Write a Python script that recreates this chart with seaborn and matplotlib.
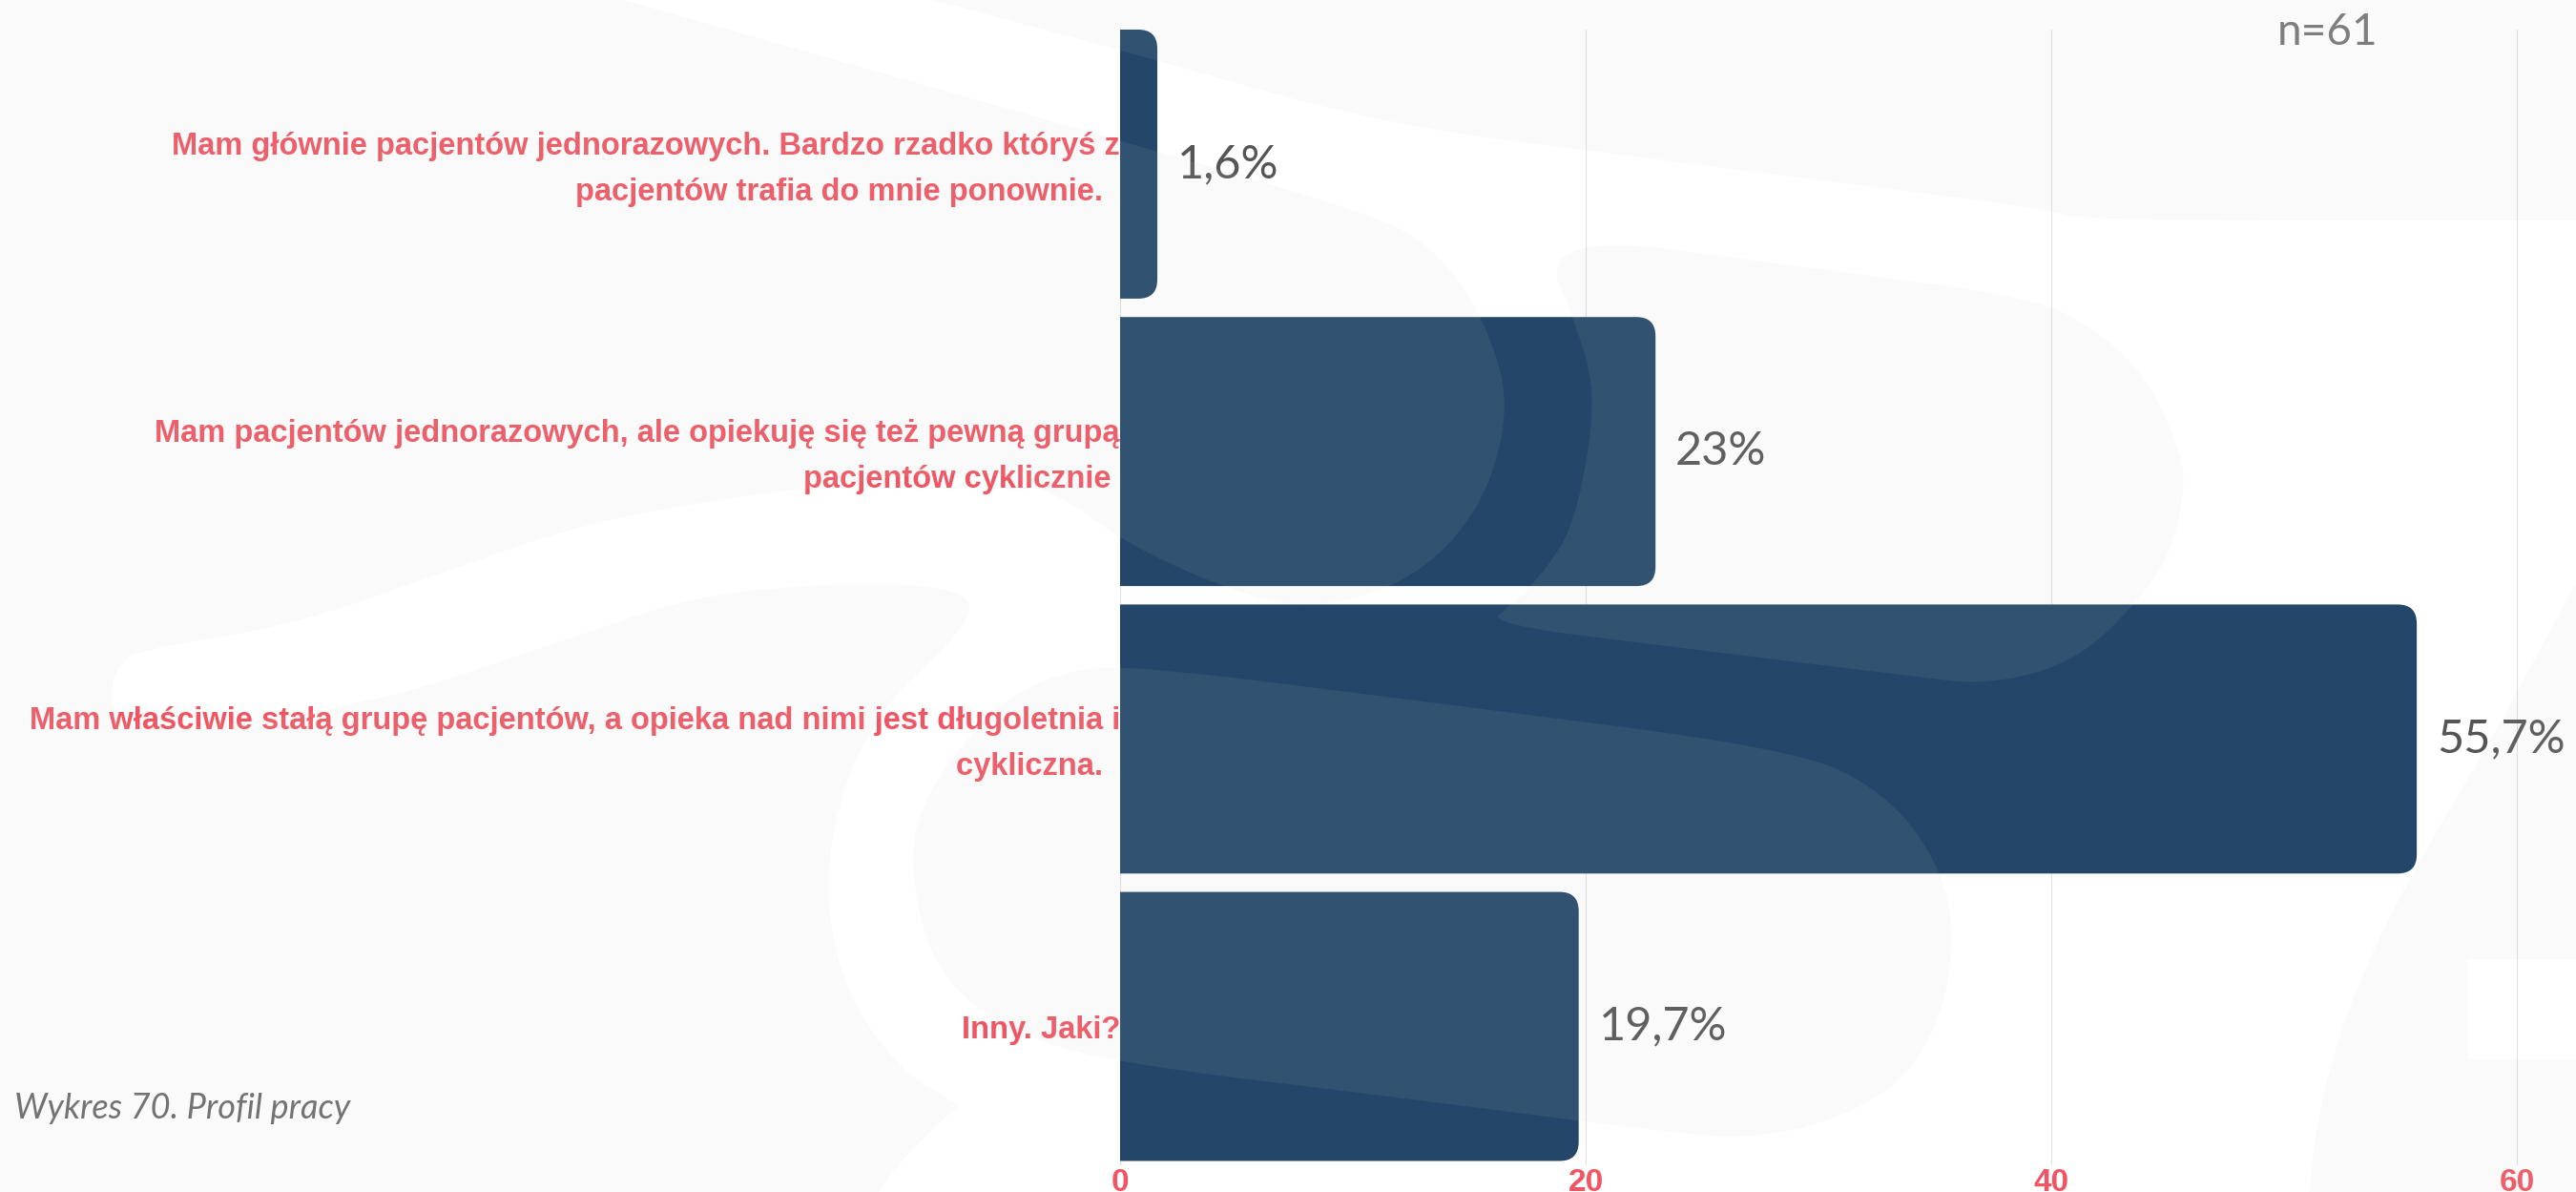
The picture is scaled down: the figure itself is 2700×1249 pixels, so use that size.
import numpy as np
import pandas as pd
import matplotlib
matplotlib.use("Agg")
import matplotlib.pyplot as plt
import matplotlib.transforms as mtransforms
import seaborn as sns
from matplotlib.patches import FancyBboxPatch, Polygon

# ---- data -------------------------------------------------------------
categories = [
    "Mam głównie pacjentów jednorazowych. Bardzo rzadko któryś z\npacjentów trafia do mnie ponownie.  ",
    "Mam pacjentów jednorazowych, ale opiekuję się też pewną grupą\npacjentów cyklicznie ",
    "Mam właściwie stałą grupę pacjentów, a opieka nad nimi jest długoletnia i\ncykliczna.  ",
    "Inny. Jaki?",
]
shares = [1.6, 23.0, 55.7, 19.7]
x_ticks = [0, 20, 40, 60]
sample_note = "n=61"
caption = "Wykres 70. Profil pracy"

# ---- style ------------------------------------------------------------
BAR = "#234669"
RED = "#EF5562"
VALUE_GREY = "#555555"
NOTE_GREY = "#777777"
GRID = "#E2E2E2"

W_PX, H_PX, DPI = 2700, 1249, 100
X_MAX = 62.54
BAR_W = 0.936
CORNER_PX = 20

sns.set_theme(style="white")
plt.rcParams["font.family"] = ["Liberation Sans", "DejaVu Sans"]

fig = plt.figure(figsize=(W_PX / DPI, H_PX / DPI), dpi=DPI, facecolor="white")
ax_left, ax_bottom = 1174 / W_PX, (H_PX - 1221) / H_PX
ax_w, ax_h = 1 - ax_left, 1190 / H_PX
ax = fig.add_axes([ax_left, ax_bottom, ax_w, ax_h])
ax.patch.set_alpha(0)

df = pd.DataFrame({"odpowiedz": categories, "procent": shares})
sns.barplot(data=df, x="procent", y="odpowiedz", orient="h", color=BAR,
            saturation=1, width=BAR_W, ax=ax)

ax.set_xlim(0, X_MAX)
n = len(categories)
ax.set_ylim(n - 1 + BAR_W / 2 + 0.015, -BAR_W / 2)

# rounded right-hand corners: replace each rectangle by a rounded box whose
# left end sits beyond the axes and is clipped away
rx = CORNER_PX * X_MAX / (ax_w * W_PX)
ry = CORNER_PX * (n - 1 + BAR_W + 0.015) / (ax_h * H_PX)
for bar in list(ax.patches):
    x0, y0 = bar.get_x(), bar.get_y()
    w, h = bar.get_width(), bar.get_height()
    bar.remove()
    ext = 3.0
    ax.add_patch(FancyBboxPatch(
        (x0 - ext, y0), w + ext, h,
        boxstyle=f"round,pad=0,rounding_size={rx}",
        mutation_aspect=ry / rx, facecolor=BAR, edgecolor="none",
        zorder=2, clip_on=True))

# value labels
for i, v in enumerate(shares):
    txt = f"{v:g}".replace(".", ",") + "%"
    ax.annotate(txt, xy=(v, i), xytext=(15, 0), textcoords="offset points",
                va="center", ha="left", fontsize=35, color=VALUE_GREY,
                family=["Lato", "DejaVu Sans"])

# axes cosmetics
for s in ax.spines.values():
    s.set_visible(False)
ax.set_xticks(x_ticks)
ax.set_xticklabels([str(t) for t in x_ticks])
ax.xaxis.grid(True, color=GRID, linewidth=0.8)
ax.yaxis.grid(False)
ax.set_axisbelow(True)
ax.set_xlabel("")
ax.set_ylabel("")
ax.tick_params(axis="x", length=0, pad=2, labelsize=24, labelcolor=RED)
ax.tick_params(axis="y", length=0, pad=0, labelsize=23.5, labelcolor=RED)
for lbl in ax.get_xticklabels():
    lbl.set_fontweight("bold")
lift = mtransforms.ScaledTranslation(0, 5 / 72, fig.dpi_scale_trans)
for lbl in ax.get_yticklabels():
    lbl.set_fontweight("bold")
    lbl.set_linespacing(1.72)
    lbl.set_multialignment("right")
    if "\n" in lbl.get_text():
        lbl.set_transform(lbl.get_transform() + lift)

# notes
fig.text(2440 / W_PX, 1 - 34 / H_PX, sample_note, ha="center", va="center",
         fontsize=33, color=NOTE_GREY, family=["Lato", "DejaVu Sans"])
fig.text(15 / W_PX, 1 - 1172 / H_PX, caption, ha="left", va="baseline",
         fontsize=26, color="#6a6a6a", style="italic", fontweight="normal",
         family=["Lato", "DejaVu Sans"])


# ---- faint background emblem (grey veil with white cut-outs) -----------
def chaikin(pts, it=3):
    p = np.asarray(pts, float)
    for _ in range(it):
        q = np.roll(p, -1, axis=0)
        new = np.empty((2 * len(p), 2))
        new[0::2] = 0.75 * p + 0.25 * q
        new[1::2] = 0.25 * p + 0.75 * q
        p = new
    return p


def sharp(*pt):
    return [pt, pt, pt]


veil_left = (
    sharp(-60, -60) + [(442, -60), (654, 0), (1170, 146), (1440, 225),
    (1495, 255), (1535, 300), (1565, 360), (1580, 420), (1568, 490),
    (1538, 550), (1490, 598), (1430, 626), (1370, 634), (1320, 628),
    (1240, 598), (1170, 562), (1116, 522), (1060, 500), (1000, 494),
    (886, 506), (733, 526), (600, 552), (450, 605), (306, 655), (153, 680),
    (126, 693), (115, 724), (122, 752), (146, 769), (383, 741), (600, 668),
    (726, 625), (860, 612), (960, 612), (1010, 622), (1020, 640),
    (990, 680), (925, 740), (880, 830), (864, 941), (887, 1042), (944, 1122)]
    + sharp(1005, 1158) + [(960, 1200), (917, 1249), (900, 1310)]
    + sharp(-60, 1310)
)
veil_top = (
    [(753, -60)] + sharp(2760, -60) + sharp(2760, 231)
    + [(2187, 231), (2152, 221), (2070, 209), (1664, 158), (1440, 128),
       (1170, 51), (978, 0)]
)
veil_mid = [
    (1612, 243), (1900, 281), (2134, 312), (2201, 348), (2250, 395),
    (2286, 474), (2290, 514), (2277, 573), (2250, 620), (2179, 692),
    (2085, 718), (2000, 708), (1780, 681), (1560, 654), (1583, 634),
    (1600, 620), (1640, 570), (1658, 514), (1672, 419), (1658, 356),
]
veil_low = [
    (1181, 696), (1500, 736), (1882, 785), (1974, 829), (2031, 901),
    (2050, 981), (2031, 1082), (1974, 1154), (1847, 1196), (1715, 1182),
    (1450, 1148), (1170, 1114), (1059, 1082), (982, 1022), (954, 921),
    (963, 841), (1040, 740), (1110, 705),
]
veil_right = (
    sharp(2760, 500) + [(2700, 610), (2620, 760), (2536, 901), (2480, 1010),
    (2446, 1102), (2428, 1180), (2420, 1249)] + sharp(2418, 1310)
    + sharp(2760, 1310) + sharp(2760, 1110) + sharp(2587, 1110)
    + sharp(2587, 1005) + sharp(2760, 1005)
)

ov = fig.add_axes([0, 0, 1, 1], zorder=10)
ov.set_xlim(0, W_PX)
ov.set_ylim(H_PX, 0)
ov.axis("off")
for shape in (veil_left, veil_top, veil_mid, veil_low, veil_right):
    ov.add_patch(Polygon(chaikin(shape), closed=True, facecolor="#CBCBCB",
                         edgecolor="none", alpha=0.0955))

fig.savefig("out.png", dpi=DPI, facecolor="white")
